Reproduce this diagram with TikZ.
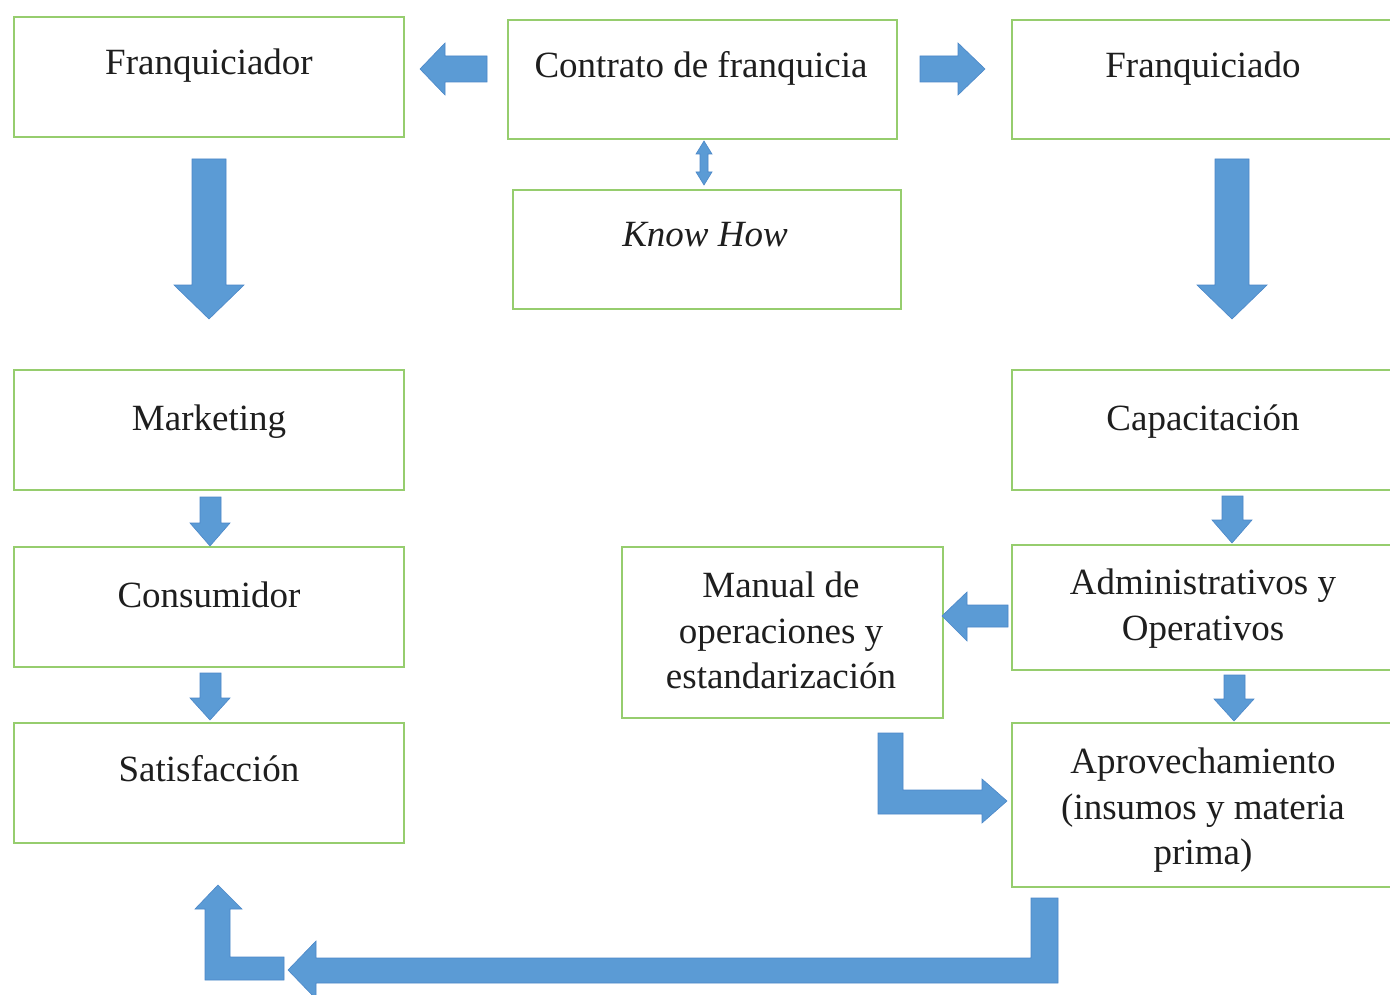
\documentclass[tikz,border=0pt]{standalone}
\usepackage{fontspec}
\setmainfont{Liberation Serif}
\usetikzlibrary{fit}
\definecolor{boxgreen}{RGB}{150,205,110}
\definecolor{arrowblue}{RGB}{91,155,213}
\definecolor{arrowedge}{RGB}{75,135,200}
\definecolor{txtcol}{RGB}{30,30,30}
\tikzset{
  box/.style={draw=boxgreen, line width=2pt, inner sep=0pt, fill=white},
  txt/.style={anchor=base, inner sep=0pt, text=txtcol, font=\fontsize{37}{45}\selectfont},
  barrow/.style={fill=arrowblue, draw=arrowedge, line width=0.6pt, line join=miter},
}
\begin{document}
\begin{tikzpicture}[x=1pt,y=-1pt]
\useasboundingbox (0,0) rectangle (1390,995);
\clip (0,0) rectangle (1390,995);
\fill[white] (0,0) rectangle (1390,995);

% boxes
\node[box, fit={(14,17) (404,137)}] (fr) {};
\node[box, fit={(508,20) (897,139)}] (ct) {};
\node[box, fit={(1012,20) (1396,139)}] (fd) {};
\node[box, fit={(513,190) (901,309)}] (kh) {};
\node[box, fit={(14,370) (404,490)}] (mk) {};
\node[box, fit={(1012,370) (1396,490)}] (cp) {};
\node[box, fit={(14,547) (404,667)}] (cs) {};
\node[box, fit={(622,547) (943,718)}] (mn) {};
\node[box, fit={(1012,545) (1396,670)}] (ad) {};
\node[box, fit={(14,723) (404,843)}] (st) {};
\node[box, fit={(1012,723) (1396,887)}] (ap) {};

% texts
\node[txt] (tfr) at (209,75) {Franquiciador};
\node[txt] (tct) at (701,78) {Contrato de franquicia};
\node[txt] (tfd) at (1203,78) {Franquiciado};
\node[txt, font=\fontsize{37}{45}\selectfont\itshape] (tkh) at (705,247) {Know How};
\node[txt] (tmk) at (209,430) {Marketing};
\node[txt] (tcp) at (1203,430) {Capacitación};
\node[txt] (tcs) at (209,607) {Consumidor};
\node[txt] (tst) at (209,781) {Satisfacción};
\node[txt] (tmn1) at (781,597) {Manual de};
\node[txt] (tmn2) at (781,643) {operaciones y};
\node[txt] (tmn3) at (781,688) {estandarización};
\node[txt] (tad1) at (1203,594) {Administrativos y};
\node[txt] (tad2) at (1203,640) {Operativos};
\node[txt] (tap1) at (1203,773) {Aprovechamiento};
\node[txt] (tap2) at (1203,819) {(insumos y materia};
\node[txt] (tap3) at (1203,864) {prima)};

% block arrows
% Contrato -> Franquiciador
\draw[barrow] (487,56) -- (445,56) -- (445,43) -- (420,69) -- (445,95) -- (445,82) -- (487,82) -- cycle;
% Contrato -> Franquiciado
\draw[barrow] (920,56) -- (958,56) -- (958,43) -- (985,69) -- (958,95) -- (958,82) -- (920,82) -- cycle;
% Contrato <-> Know How
\draw[barrow] (704,141) -- (712,154) -- (708,154) -- (708,172) -- (712,172) -- (704,185) -- (696,172) -- (700,172) -- (700,154) -- (696,154) -- cycle;
% Franquiciador -> Marketing
\draw[barrow] (192,159) -- (226,159) -- (226,285) -- (244,285) -- (209,319) -- (174,285) -- (192,285) -- cycle;
% Franquiciado -> Capacitacion
\draw[barrow] (1215,159) -- (1249,159) -- (1249,285) -- (1267,285) -- (1232,319) -- (1197,285) -- (1215,285) -- cycle;
% Marketing -> Consumidor
\draw[barrow] (200,497) -- (221,497) -- (221,523) -- (230,523) -- (210,546) -- (190,523) -- (200,523) -- cycle;
% Consumidor -> Satisfaccion
\draw[barrow] (200,673) -- (221,673) -- (221,698) -- (230,698) -- (210,720) -- (190,698) -- (200,698) -- cycle;
% Capacitacion -> Administrativos
\draw[barrow] (1222,496) -- (1243,496) -- (1243,520) -- (1252,520) -- (1232,543) -- (1212,520) -- (1222,520) -- cycle;
% Administrativos -> Aprovechamiento
\draw[barrow] (1224,675) -- (1245,675) -- (1245,699) -- (1254,699) -- (1234,721) -- (1214,699) -- (1224,699) -- cycle;
% Administrativos -> Manual
\draw[barrow] (1008,605) -- (967,605) -- (967,592) -- (942,616) -- (967,641) -- (967,627) -- (1008,627) -- cycle;
% Manual -> Aprovechamiento (L shaped)
\draw[barrow] (878,733) -- (903,733) -- (903,790) -- (982,790) -- (982,779) -- (1007,801) -- (982,823) -- (982,814) -- (878,814) -- cycle;
% Aprovechamiento -> bottom long arrow
\draw[barrow] (1031,898) -- (1058,898) -- (1058,983) -- (316,983) -- (316,999) -- (288,970) -- (316,941) -- (316,958) -- (1031,958) -- cycle;
% up L arrow to Satisfaccion
\draw[barrow] (205,980) -- (205,909) -- (195,909) -- (218,885) -- (242,909) -- (230,909) -- (230,957) -- (284,957) -- (284,980) -- cycle;
\end{tikzpicture}
\end{document}
